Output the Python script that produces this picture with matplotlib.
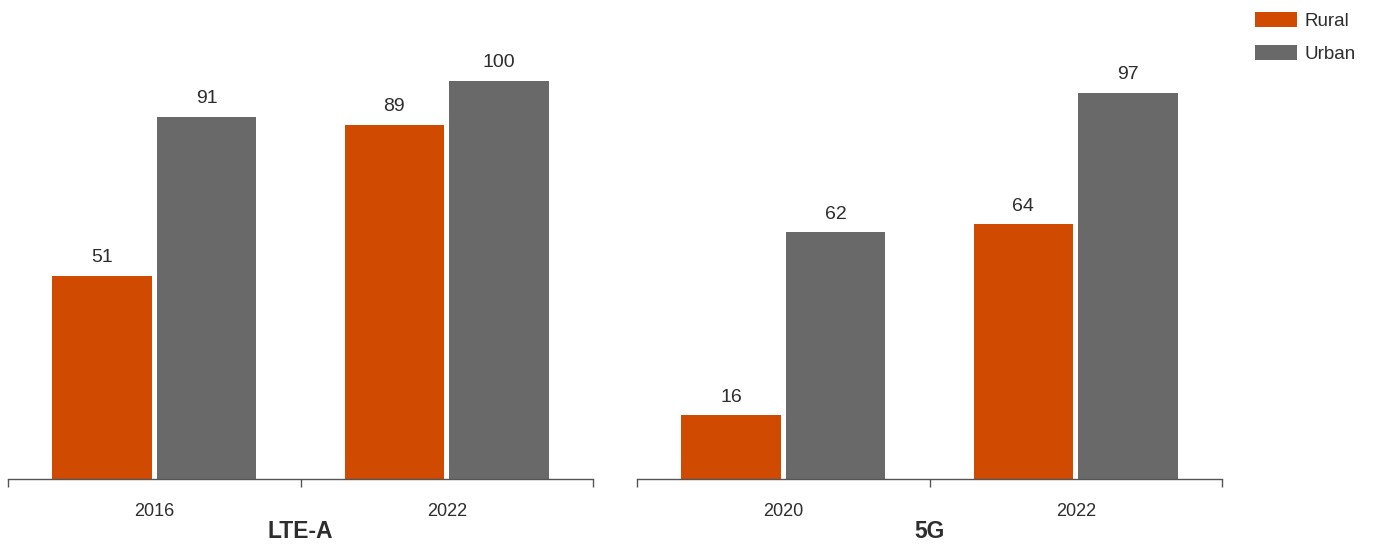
import matplotlib
matplotlib.use("Agg")
import matplotlib.pyplot as plt
from matplotlib.patches import Patch
import numpy as np

plt.rcParams['font.family'] = ['Liberation Sans', 'DejaVu Sans']

# Data
panels = ["LTE-A", "5G"]
lte_years = ["2016", "2022"]
lte_rural = [51, 89]
lte_urban = [91, 100]
g5_years = ["2020", "2022"]
g5_rural = [16, 64]
g5_urban = [62, 97]
series_names = ["Rural", "Urban"]

RURAL_COLOR = "#D04A02"
URBAN_COLOR = "#696969"
TEXT_COLOR = "#2D2D2D"
AXIS_COLOR = "#555555"

fig = plt.figure(figsize=(13.77, 5.46), dpi=100)
W, H = 1377, 546

def panel(ax, years, rural, urban, title):
    x = np.arange(len(years))
    width = 0.341
    off = 0.179
    ax.bar(x - off, rural, width, color=RURAL_COLOR)
    ax.bar(x + off, urban, width, color=URBAN_COLOR)
    for xs, vals in ((x - off, rural), (x + off, urban)):
        for xi, v in zip(xs, vals):
            ax.annotate(f"{v}", (xi, v), xytext=(0, 7), textcoords="offset points",
                        ha="center", va="bottom", fontsize=14, color=TEXT_COLOR,
                        annotation_clip=False)
    ax.set_xlim(-0.5, len(years) - 0.5)
    ax.set_ylim(0, 100)
    for s in ["top", "right", "left"]:
        ax.spines[s].set_visible(False)
    ax.spines["bottom"].set_color(AXIS_COLOR)
    ax.spines["bottom"].set_linewidth(1.0)
    ax.set_yticks([])
    # boundary ticks between categories
    ax.set_xticks(np.arange(-0.5, len(years), 1.0))
    ax.set_xticklabels([""] * (len(years) + 1))
    ax.tick_params(axis="x", which="major", length=6, width=1.0, color=AXIS_COLOR, direction="out")
    ax.set_xticks(x, minor=True)
    ax.set_xticklabels(years, minor=True, fontsize=13, color=TEXT_COLOR)
    ax.tick_params(axis="x", which="minor", length=0, pad=17)
    ax.text(0.5, -0.131, title, transform=ax.transAxes, ha="center", va="center",
            fontsize=16.5, fontweight="bold", color=TEXT_COLOR)

bottom = (H - 479) / H
height = 398 / H
ax1 = fig.add_axes([8 / W, bottom, 585 / W, height])
ax2 = fig.add_axes([637 / W, bottom, 585 / W, height])
panel(ax1, lte_years, lte_rural, lte_urban, panels[0])
panel(ax2, g5_years, g5_rural, g5_urban, panels[1])

handles = [Patch(facecolor=RURAL_COLOR), Patch(facecolor=URBAN_COLOR)]
fig.legend(handles, series_names, loc="upper left", bbox_to_anchor=(1255 / W, 1 - 12 / H),
           frameon=False, fontsize=13.5, handlelength=2.24, handleheight=0.85,
           labelspacing=0.8, handletextpad=0.4, borderpad=0, borderaxespad=0,
           labelcolor=TEXT_COLOR)

fig.savefig("out.png", dpi=100)
